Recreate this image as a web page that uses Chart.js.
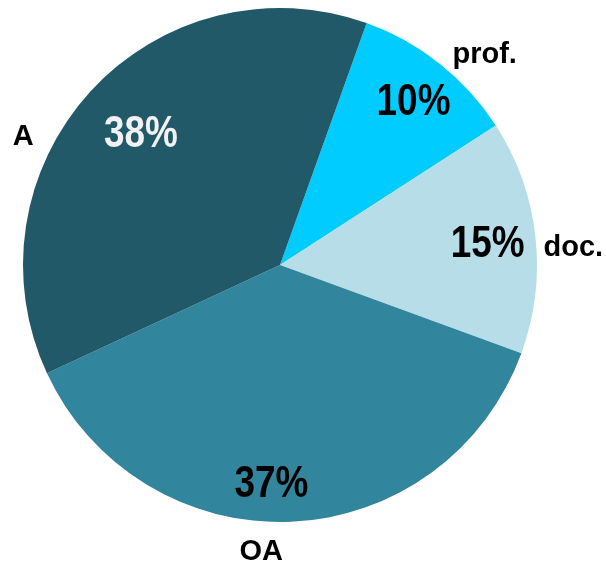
<!DOCTYPE html>
<html>
<head>
<meta charset="utf-8">
<script src="https://cdn.jsdelivr.net/npm/chart.js@4"></script>
<style>
  html, body { margin: 0; padding: 0; background: #fff; }
  #wrap { width: 606px; height: 565px; }
</style>
</head>
<body>
<div id="wrap"><canvas id="grafico" width="606" height="565"></canvas></div>
<script>
const categorias = ['prof.', 'doc.', 'OA', 'A'];
const valores = [10.4, 14.7, 37.5, 37.4];
const rotulosPct = ['10%', '15%', '37%', '38%'];
const cores = ['#00CCFF', '#B7DEE8', '#31859C', '#215968'];
const coresPct = ['#000000', '#000000', '#000000', '#F2F2F2'];

// posicao dos rotulos: distancia do centro (px) e desvio de angulo (graus)
const distPct = [213, 209, 216, 193];
const desvioPct = [0.4, -0.3, 4.7, 1.5];
const distNome = [295, 294, 285, 288];
const desvioNome = [5.5, 2.6, 6.2, -15.4];

const fonte = '"Liberation Sans", Arial, sans-serif';

// escala horizontal simula a fonte estreita (Arial Narrow) do original
function escreve(ctx, txt, x, y, tam, cor, estreita) {
    ctx.save();
    ctx.translate(x, y + tam * 0.358);
    ctx.scale(estreita, 1);
    ctx.font = 'bold ' + tam + 'px ' + fonte;
    ctx.fillStyle = cor;
    ctx.textAlign = 'center';
    ctx.textBaseline = 'alphabetic';
    ctx.fillText(txt, 0, 0);
    ctx.restore();
}

const rotulosPlugin = {
    id: 'rotulos',
    afterDatasetsDraw(chart) {
        const ctx = chart.ctx;
        const meta = chart.getDatasetMeta(0);
        meta.data.forEach((arc, i) => {
            const p = arc.getProps(['x', 'y', 'startAngle', 'endAngle'], true);
            const meio = (p.startAngle + p.endAngle) / 2;

            const a1 = meio + desvioPct[i] * Math.PI / 180;
            escreve(ctx, rotulosPct[i], p.x + Math.cos(a1) * distPct[i], p.y + Math.sin(a1) * distPct[i], 45, coresPct[i], 0.82);

            const a2 = meio + desvioNome[i] * Math.PI / 180;
            escreve(ctx, categorias[i], p.x + Math.cos(a2) * distNome[i], p.y + Math.sin(a2) * distNome[i], 29, '#000000', 1);
        });
    }
};

new Chart(document.getElementById('grafico'), {
    type: 'pie',
    data: {
        labels: categorias,
        datasets: [{ data: valores, backgroundColor: cores, borderWidth: 0 }]
    },
    options: {
        responsive: false,
        animation: false,
        rotation: 19.7,
        layout: { padding: { left: 23, top: 8, right: 69, bottom: 43 } },
        plugins: { legend: { display: false }, tooltip: { enabled: false } }
    },
    plugins: [rotulosPlugin]
});
</script>
</body>
</html>
